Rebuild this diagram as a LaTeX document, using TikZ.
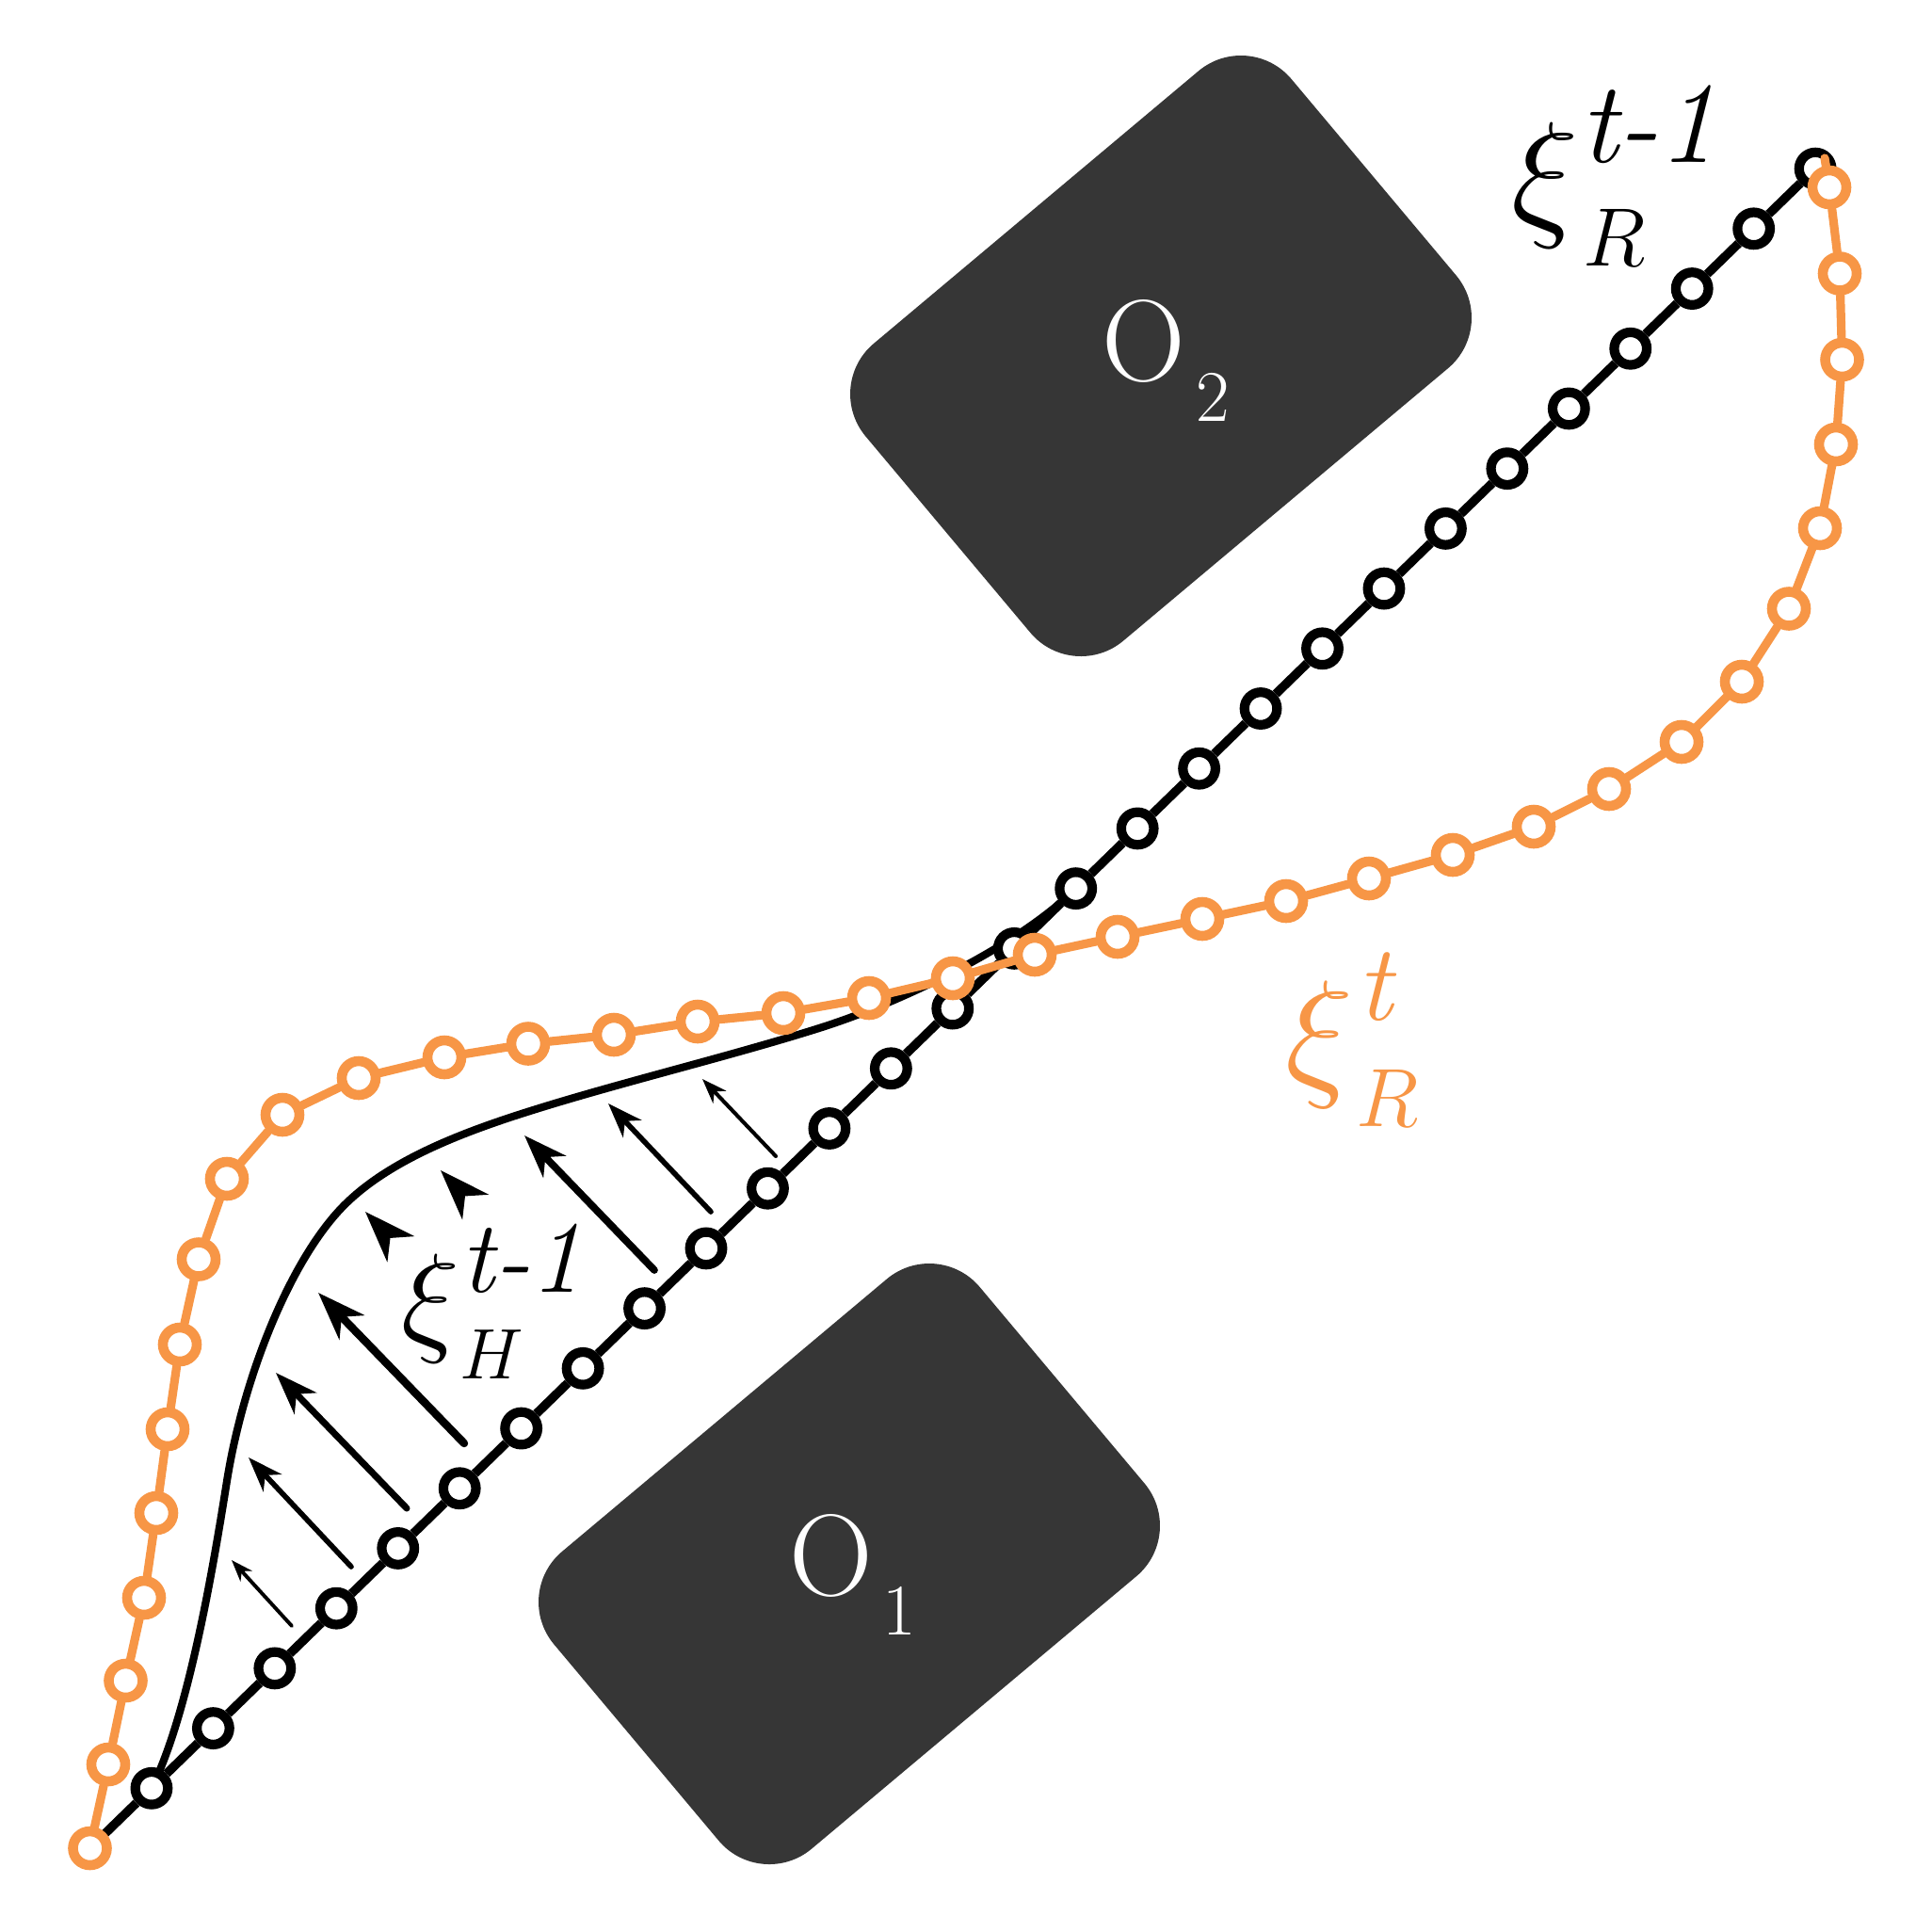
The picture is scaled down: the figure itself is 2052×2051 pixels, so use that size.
\RequirePackage{fix-cm}
\documentclass[tikz,border=0pt]{standalone}
\usetikzlibrary{arrows.meta}
\definecolor{obst}{RGB}{54,54,54}
\definecolor{traj}{RGB}{247,150,70}
\newcommand{\xilab}[9]{\rlap{\fontsize{#1}{#1}\selectfont$\xi$}\rlap{\hspace*{#2}\raisebox{#3}{\fontsize{#4}{#4}\selectfont\itshape #5}}\hspace*{#6}\raisebox{-#7}{\fontsize{#8}{#8}\selectfont$#9$}}
\newcommand{\obslab}[3]{{\fontsize{35pt}{35pt}\selectfont O}\hspace*{#1}\raisebox{-#2}{\fontsize{22pt}{22pt}\selectfont #3}}
\tikzset{
  obstacle/.style={rectangle, fill=obst, rounded corners=0.7cm, minimum width=5.9cm, minimum height=4.12cm, rotate=40, inner sep=0pt},
  bdot/.style={circle, draw=black, fill=white, line width=2.9pt, minimum size=0.346cm, inner sep=0pt},
  odot/.style={circle, draw=traj, fill=white, line width=3pt, minimum size=0.36cm, inner sep=0pt},
  bline/.style={draw=black, line width=2.7pt},
  oline/.style={draw=traj, line width=2.6pt, line cap=round},
  hcurve/.style={draw=black, line width=2.3pt, line cap=round},
  force/.style 2 args={draw=black, line width=#1, line cap=round, -{Stealth[length=#2, width'=0pt 0.72, inset'=0pt 0.3]}},
  headfill/.style={fill=black},
  lab/.style={anchor=base west, inner sep=0pt}
}
\begin{document}
\begin{tikzpicture}[x=0.01cm, y=-0.01cm]
\fill[white] (0,0) rectangle (2052,2051);
\useasboundingbox (0,0) rectangle (2052,2051);
% obstacles
\node[obstacle] (obs2) at (1233,378) {};
\node[obstacle] (obs1) at (902,1661) {};
% robot trajectory points (t-1)
\foreach \i in {0,...,28} \coordinate (p\i) at ({95.5+65.45*\i},{1963-63.71*\i});
% human trajectory
\draw[hcurve] (p1) .. controls (201.5,1819) and (228.4,1652) .. (241,1573)
  .. controls (258.4,1464.4) and (305.4,1346.2) .. (359,1287)
  .. controls (405.9,1235.2) and (486.7,1204) .. (563,1180)
  .. controls (658,1150) and (775,1122) .. (870,1092)
  .. controls (965,1062) and (1086,1001) .. (p16);
% robot trajectory t-1
\foreach \i in {0,...,28} \node[bdot] (b\i) at (p\i) {};
\foreach \i [remember=\i as \j (initially 0)] in {1,...,28} \draw[bline] (b\j) -- (b\i);
% forces
\coordinate (f1a) at (310,1727); \coordinate (f1b) at (246,1657);
\coordinate (f2a) at (373,1664); \coordinate (f2b) at (264,1548);
\coordinate (f3a) at (432,1602); \coordinate (f3b) at (293,1458);
\coordinate (f4a) at (493,1533); \coordinate (f4b) at (338,1373);
\coordinate (f7a) at (695,1349); \coordinate (f7b) at (557,1206);
\coordinate (f8a) at (755,1287); \coordinate (f8b) at (646,1172);
\coordinate (f9a) at (824,1228); \coordinate (f9b) at (746,1146);
\draw[force={1.1pt}{6.5pt}] (f1a) -- (f1b);
\draw[force={1.6pt}{10.5pt}] (f2a) -- (f2b);
\draw[force={2pt}{12.8pt}] (f3a) -- (f3b);
\draw[force={2.4pt}{14.5pt}] (f4a) -- (f4b);
\draw[force={2.2pt}{13pt}] (f7a) -- (f7b);
\draw[force={1.6pt}{10.5pt}] (f8a) -- (f8b);
\draw[force={1.15pt}{7.5pt}] (f9a) -- (f9b);
% arrowheads without shafts
\coordinate (h5t) at (388,1287); \coordinate (h5a) at (411.4,1340.7); \coordinate (h5n) at (414.5,1314.9); \coordinate (h5b) at (440.4,1313.1);
\coordinate (h6t) at (468,1243); \coordinate (h6a) at (491.1,1295.6); \coordinate (h6n) at (494,1270.4); \coordinate (h6b) at (519.3,1268.8);
\fill[headfill] (h5t) -- (h5a) -- (h5n) -- (h5b) -- cycle;
\fill[headfill] (h6t) -- (h6a) -- (h6n) -- (h6b) -- cycle;
% robot trajectory t
\foreach \x/\y [count=\i from 0] in {95.5/1963, 115/1874, 133.5/1785, 153/1697, 166/1607, 178/1518, 191/1428, 211/1337.5, 241/1252, 300/1184, 381/1145, 472/1123, 561/1108.5, 652/1099, 741/1085, 832/1076, 923/1060, 1012/1039, 1099/1014, 1187/995, 1277/976, 1366/957, 1454/933, 1543/908, 1629/878, 1709/838, 1786/788, 1850/724, 1900/646.5, 1933/561, 1950/472, 1956.5/382, 1954/290.5, 1943/199}
  \node[odot] (o\i) at (\x,\y) {};
\coordinate (oend) at (1938,168);
\foreach \i [remember=\i as \j (initially 0)] in {1,...,33} \draw[oline] (o\j) -- (o\i);
\draw[oline] (o33) -- (oend);
% labels
\node[lab] (lxr) at (1605,234) {\xilab{42.7pt}{20.8pt}{17.6pt}{35pt}{t-1}{21.6pt}{13.9pt}{25pt}{R}};
\node[lab, text=traj] (lxt) at (1365,1147) {\xilab{43.2pt}{21.5pt}{18.2pt}{32.7pt}{t}{21.3pt}{14.2pt}{25pt}{R}};
\node[lab] (lxh) at (426,1422) {\xilab{37pt}{17.9pt}{14.2pt}{31pt}{t-1}{17.6pt}{12.2pt}{21.6pt}{H}};
\node[lab, text=white] (lo2) at (1170,404) {\obslab{3.3pt}{12.5pt}{2}};
\node[lab, text=white] (lo1) at (838,1694) {\obslab{3pt}{12.2pt}{1}};
\end{tikzpicture}
\end{document}
